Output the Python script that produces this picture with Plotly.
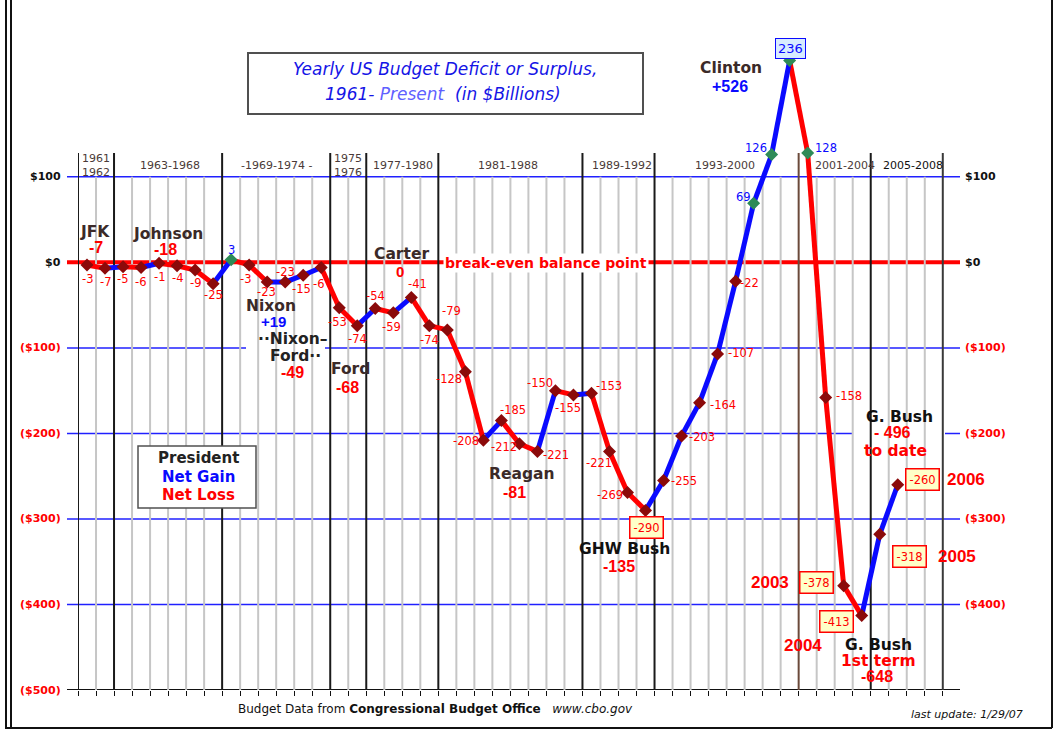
import plotly.graph_objects as go

# ---------------- data ----------------
years = list(range(1961, 2007))
values = [-3, -7, -5, -6, -1, -4, -9, -25,
          3, -3, -23, -23, -15, -6,
          -53, -74,
          -54, -59, -41, -74,
          -79, -128, -208, -185, -212, -221, -150, -155,
          -153, -221, -269, -290,
          -255, -203, -164, -107, -22, 69, 126, 236,
          128, -158, -378, -413,
          -318, -260]
term_labels = ["1961<br>1962", "1963-1968", "-1969-1974 -", "1975<br>1976", "1977-1980",
               "1981-1988", "1989-1992", "1993-2000", "2001-2004", "2005-2008"]
term_bounds = [1960.5, 1962.5, 1968.5, 1974.5, 1976.5, 1980.5, 1988.5, 1992.5, 2000.5, 2004.5, 2008.5]
boxed_years = [1992, 2000, 2003, 2004, 2005, 2006]
tagged_years = [2003, 2004, 2005, 2006]
grid_vals = [100, 0, -100, -200, -300, -400, -500]
grid_text = ["$100", "$0", "($100)", "($200)", "($300)", "($400)", "($500)"]
president_labels = ["JFK", "Johnson", "Nixon", "··Nixon–", "Ford··", "Ford", "Carter", "Reagan",
                    "GHW Bush", "Clinton", "G. Bush", "G. Bush", "1st term", "to date"]
net_totals = ["-7", "-18", "+19", "-49", "-68", "0", "-81", "-135", "+526", "-648", "- 496"]
legend_lines = ["President", "Net Gain", "Net Loss"]
title_lines = ["Yearly US Budget Deficit or Surplus,", "1961- ", "Present", "  (in $Billions)"]
breakeven_text = "break-even balance point"
footer_text = "Budget Data from <b>Congressional Budget Office</b>   <i>www.cbo.gov</i>"
update_text = "last update: 1/29/07"

# ---------------- layout geometry / styles ----------------
W, H = 1056, 730
ML, MR, MT, MB = 78, 106, 40, 40
XR = [1960.5, 2008.9]
YR = [-500, 260]
PW, PH = W - ML - MR, H - MT - MB


def fx(p):
    return (p - ML) / PW


def fy(p):
    return (H - MB - p) / PH


def vy(p):
    return YR[0] + (H - MB - p) / PH * (YR[1] - YR[0])


RED = "#ff0000"
BLUE = "#0a0aff"
BROWN = "#3b2a28"
SANS = "DejaVu Sans, Verdana, sans-serif"
ARIAL = "Liberation Sans, Arial, sans-serif"

# label offsets (dx right, dy down) in pixels, per year
label_offsets = [(0, 14), (0, 14), (-1, 12), (-1, 14), (0, 14), (0, 12), (0, 13), (0, 11),
                 (0, -10), (-4, 14), (-1, 10), (0, -10), (-2, 14), (-3, 16),
                 (-2, 14), (0, 13),
                 (0, -13), (-2, 14), (6, -13), (0, 14),
                 (4, -19), (-16, 7), (-17, 1), (12, -11), (-15, 3), (19, 4), (-15, -8), (-5, 13),
                 (18, -7), (-10, 12), (-18, 3), (1, 17),
                 (20, 1), (20, 1), (23, 2), (23, -1), (14, 2), (-10, -6), (-16, -7), (1, -12),
                 (18, -5), (23, -2), (-27, -3), (-25, 6),
                 (30, 22), (25, -5)]
tag_offsets = [(-74, -3), (-59, 30), (77, 22), (68, -5)]
term_label_dx = [0, 2, 0, 0, 1, -2, 3, -2, 10, 6]
president_pos = [(95, 232), (168, 234), (271, 306), (293, 339), (295, 356), (350, 369), (401, 254),
                 (522, 474), (624, 549), (731, 68), (878, 645), (899, 417), (878, 661), (895, 451)]
president_col = [BROWN, BROWN, BROWN, "#222", "#222", BROWN, BROWN, BROWN, "#111", BROWN,
                 "#111", "#111", RED, RED]
total_pos = [(96, 247), (165, 249), (273, 321), (292, 372), (347, 387), (400, 271), (514, 492),
             (619, 566), (730, 86), (877, 676), (892, 433)]
total_size = [16, 16, 15, 16, 16, 15, 16, 16, 16, 16, 16]
# white patches behind the president blocks (x0, y0, x1, y1) in pixels
white_patches = [(80, 222, 112, 256), (128, 224, 208, 258), (246, 297, 325, 381),
                 (332, 360, 366, 397), (490, 464, 555, 502), (578, 540, 672, 576),
                 (853, 378, 945, 462), (840, 635, 915, 686)]

fig = go.Figure()

# line segments coloured by gain / loss
rx, ry, bx, by = [], [], [], []
for i in range(len(years) - 1):
    sx = [years[i], years[i + 1], None]
    sy = [values[i], values[i + 1], None]
    if values[i + 1] >= values[i]:
        bx += sx
        by += sy
    else:
        rx += sx
        ry += sy
fig.add_trace(go.Scatter(x=rx, y=ry, mode="lines", line=dict(color=RED, width=5),
                         hoverinfo="skip", showlegend=False))
fig.add_trace(go.Scatter(x=bx, y=by, mode="lines", line=dict(color=BLUE, width=5),
                         hoverinfo="skip", showlegend=False))
fig.add_trace(go.Scatter(
    x=years, y=values, mode="markers", showlegend=False,
    marker=dict(symbol="diamond", size=10,
                color=["#2e8b57" if v > 0 else "#8b0a0a" for v in values],
                line=dict(width=0))))

shapes = []
# light grey year boundaries
all_bounds = [y + 0.5 for y in range(1960, 2009)]
for b in all_bounds:
    if b in term_bounds:
        continue
    shapes.append(dict(type="line", xref="x", yref="y", x0=b, x1=b, y0=-500, y1=100,
                       line=dict(color="#c6c6c6", width=2), layer="below"))
# presidential term boundaries
vtop = vy(153)
for b in term_bounds:
    col = "#6b4a3a" if b == 2000.5 else ("#3a3a3a" if b == 2008.5 else "#1a1a1a")
    shapes.append(dict(type="line", xref="x", yref="y", x0=b, x1=b, y0=-500, y1=vtop,
                       line=dict(color=col, width=2), layer="below"))
# horizontal grid lines
for g in grid_vals:
    if g == 0:
        ln = dict(color=RED, width=4)
    elif g == -500:
        ln = dict(color="#111", width=2)
    else:
        ln = dict(color="#2020ff", width=1.5)
    shapes.append(dict(type="line", xref="paper", yref="y", x0=fx(67), x1=fx(960), y0=g, y1=g,
                       line=ln, layer="below"))
# white patches behind president text blocks
for (x0, y0, x1, y1) in white_patches:
    shapes.append(dict(type="rect", xref="paper", yref="paper", x0=fx(x0), x1=fx(x1),
                       y0=fy(y1), y1=fy(y0), line=dict(width=0), fillcolor="white", layer="below"))
# title box and legend box
shapes.append(dict(type="rect", xref="paper", yref="paper", x0=fx(248), x1=fx(643),
                   y0=fy(53), y1=fy(114), line=dict(color="#505050", width=2), fillcolor="white"))
shapes.append(dict(type="rect", xref="paper", yref="paper", x0=fx(138), x1=fx(256),
                   y0=fy(446), y1=fy(508), line=dict(color="#505050", width=1.5), fillcolor="white"))
# outer frame
for xx in (6, 11):
    shapes.append(dict(type="line", xref="paper", yref="paper", x0=fx(xx), x1=fx(xx),
                       y0=fy(0), y1=fy(729), line=dict(color="#111", width=2)))
shapes.append(dict(type="line", xref="paper", yref="paper", x0=fx(6), x1=fx(1052),
                   y0=fy(728), y1=fy(728), line=dict(color="#111", width=2)))
shapes.append(dict(type="line", xref="paper", yref="paper", x0=fx(1052), x1=fx(1052),
                   y0=fy(0), y1=fy(728), line=dict(color="#111", width=2)))

ann = []


def txt(text, x, y, size, color, family=SANS, bg=None, **kw):
    d = dict(text=text, x=fx(x), y=fy(y), xref="paper", yref="paper", showarrow=False,
             font=dict(family=family, size=size, color=color), xanchor="center", yanchor="middle")
    if bg:
        d["bgcolor"] = bg
    d.update(kw)
    ann.append(d)


# title
txt("<i>" + title_lines[0] + "</i>", 445, 69, 17, "#1515e6")
txt("<i>" + title_lines[1] + "<span style='color:#6060ff'>" + title_lines[2] + "</span>"
    + title_lines[3] + "</i>", 443, 94, 17, "#1515e6")

# term labels
for i, lab in enumerate(term_labels):
    cx = (term_bounds[i] + term_bounds[i + 1]) / 2
    col = "#111" if lab == "2005-2008" else "#4a3a38"
    ann.append(dict(text=lab, x=cx, y=vy(165), xref="x", yref="y", showarrow=False,
                    xshift=term_label_dx[i],
                    font=dict(family=SANS, size=11, color=col), yanchor="middle"))

# y tick labels
for g, t in zip(grid_vals, grid_text):
    col = "#111" if g >= 0 else RED
    ann.append(dict(text="<b>" + t + "</b>", x=fx(63), y=g, xref="paper", yref="y", showarrow=False,
                    xanchor="right", yanchor="middle", font=dict(family=SANS, size=11, color=col)))
    if g > -500:
        ann.append(dict(text="<b>" + t + "</b>", x=fx(963), y=g, xref="paper", yref="y",
                        showarrow=False, xanchor="left", yanchor="middle",
                        font=dict(family=SANS, size=11, color=col)))

# break-even label
txt("<b>" + breakeven_text + "</b>", 546, 263, 14, RED, bg="white")

# data labels
for yr, v, (dx, dy) in zip(years, values, label_offsets):
    col = BLUE if v > 0 else RED
    d = dict(text=str(v), x=yr, y=v, xref="x", yref="y", showarrow=False,
             xshift=dx, yshift=-dy, font=dict(family=SANS, size=11.5, color=col))
    if yr in boxed_years:
        if v > 0:
            d.update(bgcolor="#d8ecff", bordercolor=BLUE, borderwidth=1, borderpad=2)
            d["font"]["size"] = 13
        else:
            d.update(bgcolor="#ffffc8", bordercolor=RED, borderwidth=1.5, borderpad=3)
    ann.append(d)

# big year tags
for yr, (dx, dy) in zip(tagged_years, tag_offsets):
    v = values[years.index(yr)]
    ann.append(dict(text="<b>" + str(yr) + "</b>", x=yr, y=v, xref="x", yref="y", showarrow=False,
                    xshift=dx, yshift=-dy, font=dict(family=ARIAL, size=17, color=RED)))

# president names and net totals
for lab, (x, y), col in zip(president_labels, president_pos, president_col):
    txt("<b>" + lab + "</b>", x, y, 15.5, col)
for tot, (x, y), sz in zip(net_totals, total_pos, total_size):
    col = BLUE if tot.startswith("+") else RED
    txt("<b>" + tot + "</b>", x, y, sz, col, family=ARIAL)

# legend box text
for lab, y, col in zip(legend_lines, (458, 477, 495), ("#222", BLUE, RED)):
    txt("<b>" + lab + "</b>", 198, y, 15, col)

# footer
txt(footer_text, 435, 709, 12, "#111")
txt("<i>" + update_text + "</i>", 967, 714, 11, "#111")

fig.update_layout(
    width=W, height=H,
    margin=dict(l=ML, r=MR, t=MT, b=MB, autoexpand=False),
    paper_bgcolor="white", plot_bgcolor="white",
    xaxis=dict(range=XR, showgrid=False, zeroline=False, showline=False,
               tickvals=all_bounds, ticks="outside", ticklen=5, tickwidth=1, tickcolor="#111",
               showticklabels=False, fixedrange=True),
    yaxis=dict(range=YR, visible=False, fixedrange=True),
    shapes=shapes, annotations=ann, showlegend=False,
)

fig.write_html("out.html", config={"displayModeBar": False},
               post_script="document.body.style.margin='0';document.body.style.overflow='hidden';")
